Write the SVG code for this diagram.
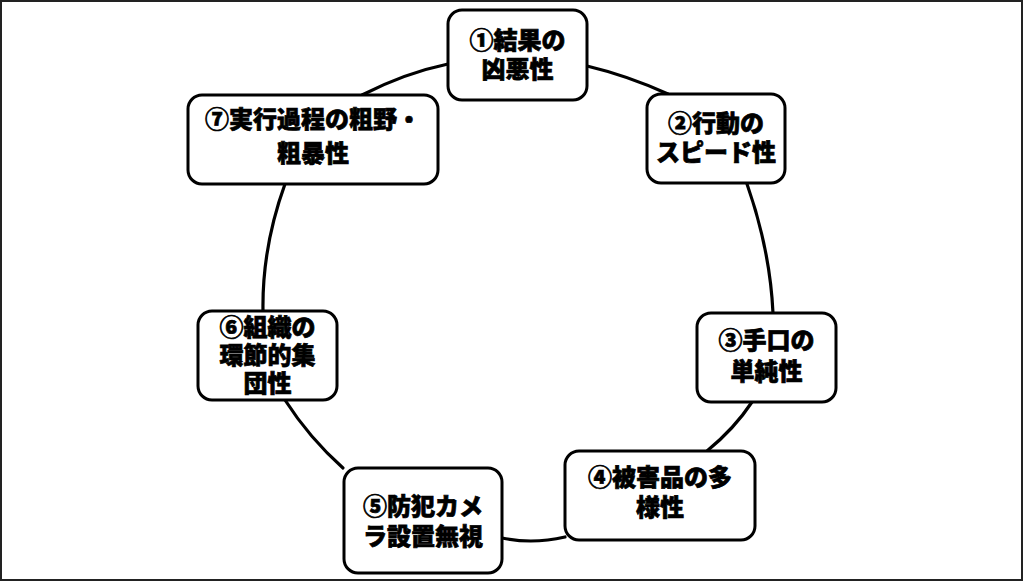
<svg xmlns="http://www.w3.org/2000/svg" width="1024" height="582" viewBox="0 0 1024 582">
<style>
.box{fill:#fff;stroke:#000;stroke-width:3}
.con{fill:none;stroke:#000;stroke-width:3.2;stroke-linecap:round}
.t{font-family:"Liberation Sans","Noto Sans CJK JP",sans-serif;font-weight:900;font-size:24px;fill:#000;stroke:#000;stroke-width:0.7;text-anchor:middle}
</style>
<rect x="1" y="1" width="1021" height="579" fill="#fff" stroke="#222" stroke-width="2"/>
<g id="connectors">
<path class="con" d="M587,66 Q627.5,75.6 668,94"/>
<path class="con" d="M747,184 Q770,249.5 773,313"/>
<path class="con" d="M752,402 Q734.5,428.5 707,451"/>
<path class="con" d="M565,537 Q532.5,544.5 502,538"/>
<path class="con" d="M343,468 Q309.4,438 285,400"/>
<path class="con" d="M263,311 Q262,247.5 285,184"/>
<path class="con" d="M362,95 Q405,73 448,64"/>
</g>
<g id="node1">
<rect class="box" x="448" y="10" width="139" height="90" rx="14"/>
<text class="t" x="517.5" y="49">①結果の<tspan x="517.5" dy="29">凶悪性</tspan></text>
</g>
<g id="node2">
<rect class="box" x="647" y="94" width="138" height="89" rx="14"/>
<text class="t" x="716" y="132">②行動の<tspan x="716" dy="29">スピード性</tspan></text>
</g>
<g id="node3">
<rect class="box" x="697" y="313" width="139" height="89" rx="14"/>
<text class="t" x="766.5" y="349">③手口の<tspan x="766.5" dy="31">単純性</tspan></text>
</g>
<g id="node4">
<rect class="box" x="565" y="451" width="190" height="89" rx="14"/>
<text class="t" x="660" y="486">④被害品の多<tspan x="660" dy="30">様性</tspan></text>
</g>
<g id="node5">
<rect class="box" x="344" y="468" width="158" height="105" rx="14"/>
<text class="t" x="423" y="515">⑤防犯カメ<tspan x="423" dy="30">ラ設置無視</tspan></text>
</g>
<g id="node6">
<rect class="box" x="198" y="311" width="139" height="89" rx="14"/>
<text class="t" x="267.5" y="336">⑥組織の<tspan x="267.5" dy="28">環節的集</tspan><tspan x="267.5" dy="27.5">団性</tspan></text>
</g>
<g id="node7">
<rect class="box" x="188" y="95" width="250" height="89" rx="14"/>
<text class="t" x="313" y="128">⑦実行過程の粗野・<tspan x="313" dy="34">粗暴性</tspan></text>
</g>
</svg>
